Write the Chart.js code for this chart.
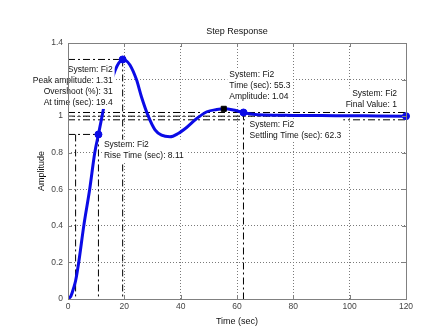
<!DOCTYPE html>
<html>
<head>
<meta charset="utf-8">
<title>Step Response</title>
<script src="https://cdn.jsdelivr.net/npm/chart.js@4.4.1/dist/chart.umd.min.js"></script>
<style>
  html, body { margin: 0; padding: 0; background: #fff; }
  #stepChart { display: block; }
</style>
</head>
<body>
<canvas id="stepChart" width="448" height="336"></canvas>
<script>
// step response of Fi2 (time in sec, amplitude)
var timeSec = [0, 1, 2, 2.7, 3.8, 5.6, 7.7, 9.5, 10.8, 12.1, 13, 14, 15, 16, 17, 18, 19.4,
    20.5, 22, 24.3, 26.1, 28.5, 30.9, 33.2, 36.2, 39.1, 42.1, 45.7, 49.3, 52.8, 55.3,
    58.7, 60.5, 62.3, 65.8, 70, 80, 90, 100, 110, 120];
var amplitude = [0, 0.015, 0.06, 0.1, 0.2, 0.4, 0.6, 0.8, 0.9, 1.0, 1.07, 1.13, 1.18, 1.22, 1.26, 1.29, 1.31,
    1.305, 1.28, 1.2, 1.105, 1.0, 0.925, 0.896, 0.887, 0.905, 0.938, 0.987, 1.024, 1.036, 1.04,
    1.034, 1.027, 1.02, 1.01, 1.006, 1.004, 1.003, 1.002, 1.001, 1.0];

var xTicks = [0, 20, 40, 60, 80, 100, 120];
var yTicks = [0, 0.2, 0.4, 0.6, 0.8, 1, 1.2, 1.4];

// characteristics
var peakInfo = [19.4, 1.31, 31];          // time, amplitude, overshoot %
var riseInfo = [2.7, 8.11, 0.9];          // start time, rise time, level
var localInfo = [55.3, 1.04];             // time, amplitude
var settleInfo = [62.3, 1.02];            // time, amplitude
var finalInfo = [120, 1];                 // time, final value
var settleBand = [0.98, 1.02];

var sysName = 'Fi2';
var riseEnd = riseInfo[0] + riseInfo[1];

var blue = '#0b0be6';
var dashDot = [7, 3, 2, 3];

function pts(xs, ys) {
    return xs.map(function(x, i) { return { x: x, y: ys[i] }; });
}

function refLine(xs, ys) {
    return {
        data: pts(xs, ys),
        borderColor: '#000',
        borderWidth: 1,
        borderDash: dashDot,
        pointRadius: 0,
        order: 3
    };
}

function marker(x, y, color, style, r) {
    return {
        data: [{ x: x, y: y }],
        showLine: false,
        pointStyle: style,
        pointRadius: r,
        pointBackgroundColor: color,
        pointBorderColor: color,
        pointBorderWidth: 1,
        clip: false,
        order: 0
    };
}

var datasets = [
    marker(peakInfo[0], peakInfo[1], blue, 'circle', 3.5),
    marker(riseEnd, riseInfo[2], blue, 'circle', 3.5),
    marker(localInfo[0], localInfo[1], '#000', 'rect', 3.6),
    marker(settleInfo[0], settleInfo[1], blue, 'circle', 3.5),
    marker(finalInfo[0], finalInfo[1], blue, 'circle', 3.5),
    {
        data: pts(timeSec, amplitude),
        borderColor: blue,
        borderWidth: 3,
        pointRadius: 0,
        cubicInterpolationMode: 'monotone',
        order: 1
    },
    // peak
    refLine([0, peakInfo[0]], [peakInfo[1], peakInfo[1]]),
    refLine([peakInfo[0], peakInfo[0]], [peakInfo[1], 0]),
    // rise time
    refLine([0, riseEnd], [riseInfo[2], riseInfo[2]]),
    refLine([riseEnd, riseEnd], [riseInfo[2], 0]),
    refLine([riseInfo[0], riseInfo[0]], [riseInfo[2], 0]),
    // settling band and final value
    refLine([0, 120], [settleBand[1], settleBand[1]]),
    refLine([0, 120], [finalInfo[1], finalInfo[1]]),
    refLine([0, 120], [settleBand[0], settleBand[0]]),
    refLine([settleInfo[0], settleInfo[0]], [settleInfo[1], 0])
];

// data tips: anchor, alignment, offset of first line
var tips = [
    { x: peakInfo[0], y: peakInfo[1], align: 'right', dx: -10, dy: 10,
      lines: ['System: ' + sysName, 'Peak amplitude: ' + peakInfo[1], 'Overshoot (%): ' + peakInfo[2], 'At time (sec): ' + peakInfo[0]] },
    { x: riseEnd, y: riseInfo[2], align: 'left', dx: 5.5, dy: 10.7,
      lines: ['System: ' + sysName, 'Rise Time (sec): ' + riseInfo[1]] },
    { x: localInfo[0], y: localInfo[1], align: 'left', dx: 5.6, dy: -34.4,
      lines: ['System: ' + sysName, 'Time (sec): ' + localInfo[0], 'Amplitude: ' + localInfo[1]] },
    { x: settleInfo[0], y: settleInfo[1], align: 'left', dx: 6, dy: 11.7,
      lines: ['System: ' + sysName, 'Settling Time (sec): ' + settleInfo[0]] },
    { x: finalInfo[0], y: finalInfo[1], align: 'right', dx: -9, dy: -22,
      lines: ['System: ' + sysName, 'Final Value: ' + finalInfo[1]] }
];

var FONT = '"Liberation Sans", Arial, sans-serif';

var stepDecor = {
    id: 'stepDecor',
    afterDatasetsDraw: function(chart) {
        var ctx = chart.ctx, xs = chart.scales.x, ys = chart.scales.y, a = chart.chartArea;
        ctx.save();
        ctx.font = '8.5px ' + FONT;
        ctx.textBaseline = 'middle';
        tips.forEach(function(t) {
            var px = xs.getPixelForValue(t.x) + t.dx;
            var py = ys.getPixelForValue(t.y) + t.dy;
            var w = 0;
            t.lines.forEach(function(s) { w = Math.max(w, ctx.measureText(s).width); });
            var left = t.align === 'right' ? px - w : px;
            ctx.fillStyle = '#fff';
            ctx.fillRect(left - 2, py - 5.5, w + 4, t.lines.length * 11 + 1);
            ctx.fillStyle = '#111';
            ctx.textAlign = t.align;
            t.lines.forEach(function(s, i) { ctx.fillText(s, px, py + i * 11); });
        });

        // axes box with inward ticks
        ctx.strokeStyle = '#808080';
        ctx.lineWidth = 1;
        ctx.setLineDash([]);
        ctx.strokeRect(Math.round(a.left) + 0.5, Math.round(a.top) + 0.5,
            Math.round(a.right - a.left), Math.round(a.bottom - a.top));
        ctx.beginPath();
        xTicks.forEach(function(v) {
            var x = Math.round(xs.getPixelForValue(v)) + 0.5;
            ctx.moveTo(x, a.bottom); ctx.lineTo(x, a.bottom - 4);
            ctx.moveTo(x, a.top); ctx.lineTo(x, a.top + 4);
        });
        yTicks.forEach(function(v) {
            var y = Math.round(ys.getPixelForValue(v)) + 0.5;
            ctx.moveTo(a.left, y); ctx.lineTo(a.left + 4, y);
            ctx.moveTo(a.right, y); ctx.lineTo(a.right - 4, y);
        });
        ctx.stroke();

        // title
        ctx.font = '9px ' + FONT;
        ctx.fillStyle = '#111';
        ctx.textAlign = 'center';
        ctx.fillText('Step Response', (a.left + a.right) / 2, 32);
        ctx.restore();
    }
};

var ctx = document.getElementById('stepChart').getContext('2d');
var stepChart = new Chart(ctx, {
    type: 'line',
    data: { datasets: datasets },
    plugins: [stepDecor],
    options: {
        responsive: false,
        animation: false,
        devicePixelRatio: 1,
        layout: { padding: { top: 43, right: 42, bottom: 9, left: 0 } },
        plugins: { legend: { display: false }, tooltip: { enabled: false } },
        scales: {
            x: {
                type: 'linear',
                min: 0,
                max: 120,
                afterFit: function(s) { s.height = 28; },
                afterBuildTicks: function(s) { s.ticks = xTicks.map(function(v) { return { value: v }; }); },
                grid: { color: '#7a7a7a', drawTicks: false },
                border: { display: false, dash: [1, 2] },
                ticks: { padding: 3, color: '#444', font: { family: FONT, size: 8.5 },
                         maxRotation: 0, callback: function(v) { return String(v); } },
                title: { display: true, text: 'Time (sec)', color: '#111',
                         font: { family: FONT, size: 9 }, padding: 0 }
            },
            y: {
                type: 'linear',
                min: 0,
                max: 1.4,
                afterFit: function(s) { s.width = 68; },
                afterBuildTicks: function(s) { s.ticks = yTicks.map(function(v) { return { value: v }; }); },
                grid: { color: '#7a7a7a', drawTicks: false },
                border: { display: false, dash: [1, 2] },
                ticks: { padding: 5, color: '#444', font: { family: FONT, size: 8.5 },
                         callback: function(v) { return String(Math.round(v * 10) / 10); } },
                title: { display: true, text: 'Amplitude', color: '#111',
                         font: { family: FONT, size: 9 }, padding: { top: 36.6, bottom: 0 } }
            }
        }
    }
});
</script>
</body>
</html>
